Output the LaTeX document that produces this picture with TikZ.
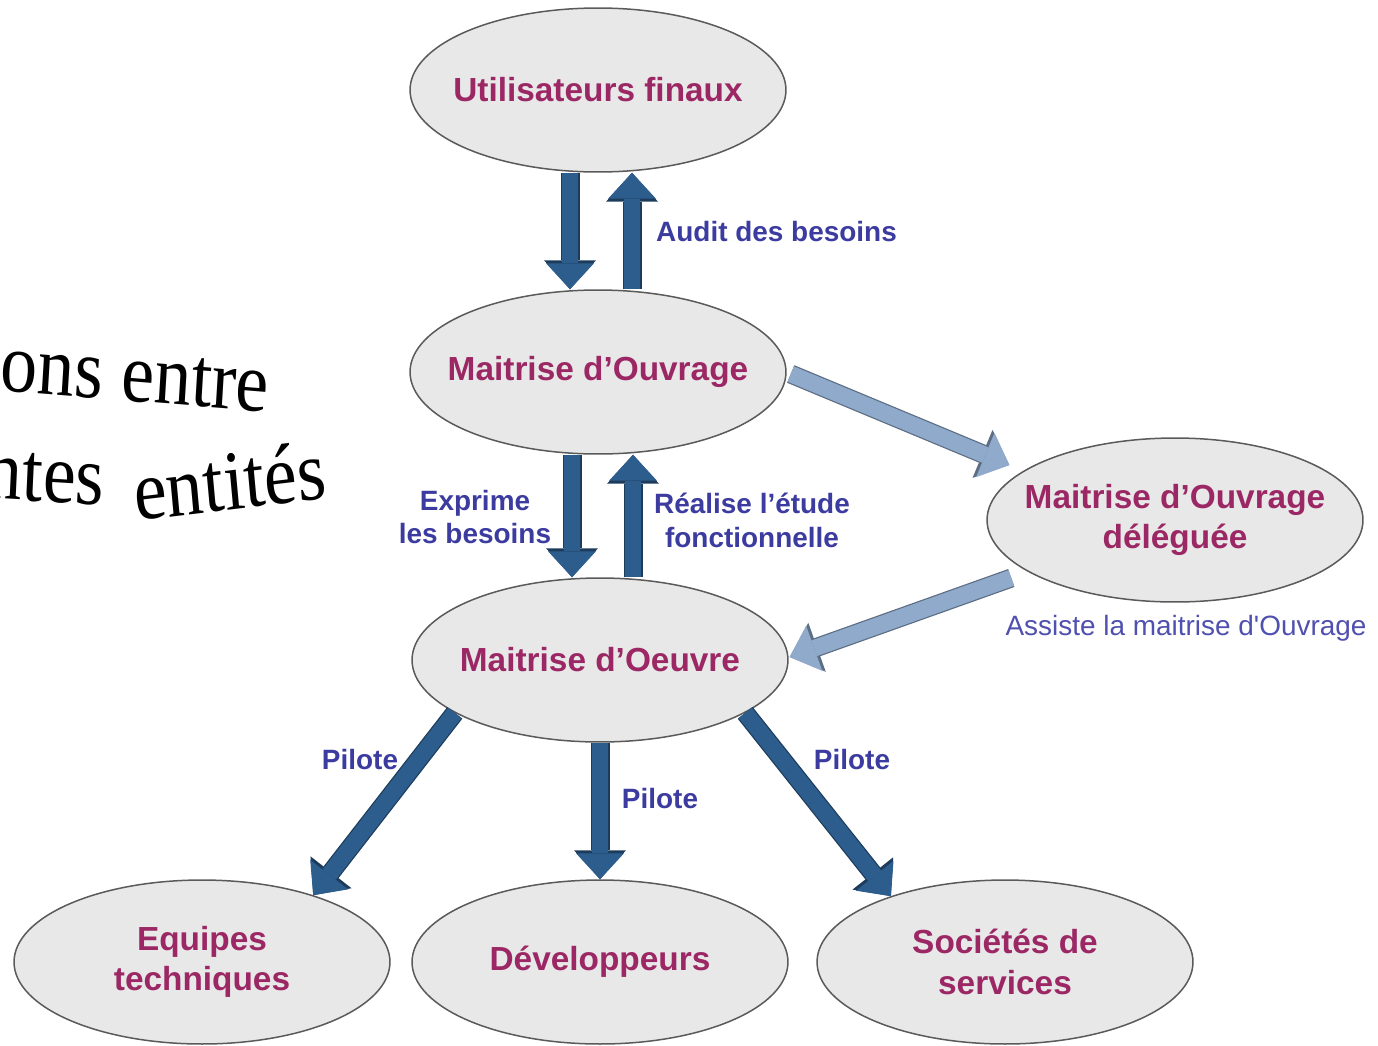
\documentclass[tikz,border=0pt]{standalone}
\usepackage{fontspec}
\setmainfont{Liberation Sans}
\newfontfamily\slidefont{Liberation Serif}
\newfontfamily\notefont{Liberation Sans}
\usetikzlibrary{arrows.meta,shapes.geometric,calc}

\definecolor{entityfill}{HTML}{E8E8E8}
\definecolor{entityline}{HTML}{5A5A5A}
\definecolor{entitytext}{HTML}{9B2864}
\definecolor{linktext}{HTML}{3C3CA0}
\definecolor{notetext}{HTML}{5050B0}
\definecolor{pilotblue}{HTML}{2D5D8D}
\definecolor{assistblue}{HTML}{8FAACB}

\tikzset{
  entity/.style={ellipse, draw=entityline, line width=0.03cm, fill=entityfill,
    minimum width=7.52cm, minimum height=3.28cm, inner xsep=-1.5cm, inner ysep=0pt,
    text=entitytext, align=center, font=\fontsize{19}{23}\bfseries\selectfont},
  linklabel/.style={text=linktext, align=center,
    font=\fontsize{15.9}{19.3}\bfseries\selectfont},
  slidetext/.style={font=\slidefont\fontsize{42}{46}\selectfont, yscale=1.15, inner sep=0pt},
}

% block arrow: dark rim first, then the coloured body on top
\newcommand{\blockarrow}[3]{%
  \draw[draw=#1!65!black, line width=0.38cm,
    -{Triangle[width=1.04cm,length=0.58cm,line width=0pt]}] #2 -- #3;
  \draw[draw=#1, line width=0.33cm,
    -{Triangle[width=0.96cm,length=0.52cm,line width=0pt]}] #2 -- #3;
}

\begin{document}
\begin{tikzpicture}[x=0.02cm,y=-0.02cm]
  \useasboundingbox (0,0) rectangle (1378,1045);

  % title of the slide, cut by the left edge
  \node[slidetext, anchor=base east, rotate=-4] (titleA) at (268,412) {ons entre};
  \node[slidetext, anchor=base east, rotate=-3] (titleB) at (104,505) {ntes};
  \node[slidetext, anchor=base west, rotate=6] (titleC) at (136,521) {entités};

  % entities
  \node[entity] (uf) at (598,90) {Utilisateurs finaux};
  \node[entity] (moa) at (598,372) {Maitrise d’Ouvrage};
  \node[entity] (moad) at (1175,520) {Maitrise d’Ouvrage\\déléguée};
  \node[entity] (moe) at (600,660) {Maitrise d’Oeuvre};
  \node[entity] (equipes) at (202,962) {Equipes\\techniques};
  \node[entity] (dev) at (600,962) {Développeurs};
  \node[entity] (societes) at (1005,962) {Sociétés de\\services};

  % links
  \blockarrow{pilotblue}{($(uf.south)+(-28,0)$)}{($(moa.north)+(-28,0)$)}
  \blockarrow{pilotblue}{($(moa.north)+(34,0)$)}{($(uf.south)+(34,0)$)}
  \blockarrow{pilotblue}{($(moa.south)+(-26,0)$)}{($(moe.north)+(-28,0)$)}
  \blockarrow{pilotblue}{($(moe.north)+(33,0)$)}{($(moa.south)+(35,0)$)}
  \blockarrow{assistblue}{($(moa.east)+(4,2)$)}{($(moad.west)+(23,-55)$)}
  \blockarrow{assistblue}{($(moad.west)+(25,58)$)}{($(moe.east)+(1,-3)$)}
  \blockarrow{pilotblue}{(moe.200)}{(equipes.31)}
  \blockarrow{pilotblue}{(moe.south)}{(dev.north)}
  \blockarrow{pilotblue}{(moe.340)}{(societes.150)}

  % link labels
  \node[linklabel, anchor=west] (audit) at (650,232) {Audit des besoins};
  \node[linklabel] (exprime) at (475,517) {Exprime\\les besoins};
  \node[linklabel] (realise) at (752,520) {Réalise l’étude\\fonctionnelle};
  \node[text=notetext, font=\notefont\fontsize{15.9}{19}\selectfont] (assiste)
    at (1186,628) {Assiste la maitrise d'Ouvrage};
  \node[linklabel] (piloteA) at (360,760) {Pilote};
  \node[linklabel] (piloteB) at (660,798) {Pilote};
  \node[linklabel] (piloteC) at (852,760) {Pilote};
\end{tikzpicture}
\end{document}
